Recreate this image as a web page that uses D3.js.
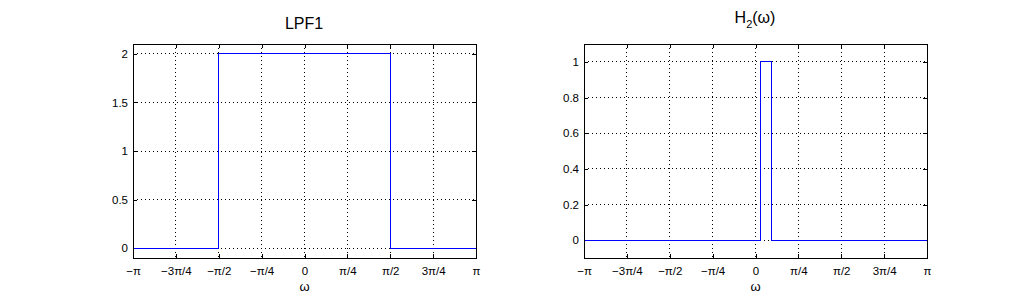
<!DOCTYPE html>
<html>
<head>
<meta charset="utf-8">
<script src="https://cdn.jsdelivr.net/npm/d3@7"></script>
<style>
  body { margin: 0; background: #fff; }
  svg { display: block; font-family: "Liberation Sans", Arial, sans-serif; }
</style>
</head>
<body>
<svg id="canvas"></svg>
<script>
let width = 1024;
let height = 300;
let PI = Math.PI;

// x ticks shared by both panels
let xTicks = [-PI, -3 * PI / 4, -PI / 2, -PI / 4, 0, PI / 4, PI / 2, 3 * PI / 4, PI];
let xTickLabels = ['\u2212\u03c0', '\u22123\u03c0/4', '\u2212\u03c0/2', '\u2212\u03c0/4', '0', '\u03c0/4', '\u03c0/2', '3\u03c0/4', '\u03c0'];

// LPF1 step data
let lpfOmega = [-PI, -PI / 2, -PI / 2, PI / 2, PI / 2, PI];
let lpfValue = [0, 0, 2, 2, 0, 0];
let lpfYTicks = [0, 0.5, 1, 1.5, 2];

// H2 step data
let h2Omega = [-PI, 0.1, 0.1, 0.3, 0.3, PI];
let h2Value = [0, 0, 1, 1, 0, 0];
let h2YTicks = [0, 0.2, 0.4, 0.6, 0.8, 1];

let canvas = d3.select('#canvas')
    .attr('width', width)
    .attr('height', height);

let drawPanel = (opts) => {
    let xScale = d3.scaleLinear().domain([-PI, PI]).range([opts.left, opts.right]);
    let yScale = d3.scaleLinear().domain(opts.yDomain).range([opts.bottom, opts.top]);
    let g = canvas.append('g');

    // dotted grid
    g.selectAll('.vgrid')
     .data(xTicks.slice(1, -1))
     .enter()
     .append('line')
     .attr('x1', (d) => xScale(d)).attr('x2', (d) => xScale(d))
     .attr('y1', opts.top).attr('y2', opts.bottom)
     .attr('stroke', '#000').attr('stroke-width', 1)
     .attr('stroke-dasharray', '1,3')
     .attr('shape-rendering', 'crispEdges');

    g.selectAll('.hgrid')
     .data(opts.yTicks)
     .enter()
     .append('line')
     .attr('x1', opts.left).attr('x2', opts.right)
     .attr('y1', (d) => yScale(d)).attr('y2', (d) => yScale(d))
     .attr('stroke', '#000').attr('stroke-width', 1)
     .attr('stroke-dasharray', '1,3')
     .attr('shape-rendering', 'crispEdges');

    // axes, ticks pointing inward
    let xAxis = d3.axisBottom(xScale).tickValues(xTicks)
        .tickFormat((d, i) => xTickLabels[i]).tickSizeInner(-4).tickSizeOuter(0).tickPadding(9);
    let yAxis = d3.axisLeft(yScale).tickValues(opts.yTicks)
        .tickFormat(d3.format('')).tickSizeInner(-4).tickSizeOuter(0).tickPadding(5);
    let xTop = d3.axisTop(xScale).tickValues(xTicks).tickFormat('').tickSizeInner(-4).tickSizeOuter(0);
    let yRight = d3.axisRight(yScale).tickValues(opts.yTicks).tickFormat('').tickSizeInner(-4).tickSizeOuter(0);

    let styleAxis = (sel) => {
        sel.selectAll('text').attr('font-size', 11.5).attr('fill', '#000')
           .attr('font-family', '"Liberation Sans", Arial, sans-serif');
        sel.selectAll('line').attr('stroke', '#000').attr('shape-rendering', 'crispEdges');
        sel.select('.domain').remove();
    };

    g.append('g').attr('transform', 'translate(0,' + opts.bottom + ')').call(xAxis).call(styleAxis);
    g.append('g').attr('transform', 'translate(' + opts.left + ',0)').call(yAxis).call(styleAxis);
    g.append('g').attr('transform', 'translate(0,' + opts.top + ')').call(xTop).call(styleAxis);
    g.append('g').attr('transform', 'translate(' + opts.right + ',0)').call(yRight).call(styleAxis);

    // data line
    let line = d3.line().x((d) => xScale(d[0])).y((d) => yScale(d[1]));
    g.append('path')
     .datum(opts.omega.map((w, i) => [w, opts.values[i]]))
     .attr('d', line)
     .attr('fill', 'none')
     .attr('stroke', '#0000ff')
     .attr('stroke-width', 1)
     .attr('shape-rendering', 'crispEdges');

    // box
    g.append('rect')
     .attr('x', opts.left).attr('y', opts.top)
     .attr('width', opts.right - opts.left).attr('height', opts.bottom - opts.top)
     .attr('fill', 'none').attr('stroke', '#000').attr('stroke-width', 1)
     .attr('shape-rendering', 'crispEdges');

    // x label
    g.append('text')
     .attr('x', (opts.left + opts.right) / 2).attr('y', 291)
     .attr('text-anchor', 'middle').attr('font-size', 13)
     .text('\u03c9');

    return g;
};

let g1 = drawPanel({
    left: 133, right: 476, top: 44, bottom: 258,
    yDomain: [-0.1, 2.1], yTicks: lpfYTicks,
    omega: lpfOmega, values: lpfValue
});
g1.append('text')
  .attr('x', 304).attr('y', 29)
  .attr('text-anchor', 'middle').attr('font-size', 16)
  .text('LPF1');

let g2 = drawPanel({
    left: 584, right: 927, top: 44, bottom: 258,
    yDomain: [-0.1, 1.1], yTicks: h2YTicks,
    omega: h2Omega, values: h2Value
});
let title2 = g2.append('text')
  .attr('x', 755).attr('y', 23)
  .attr('text-anchor', 'middle').attr('font-size', 16);
title2.append('tspan').text('H');
title2.append('tspan').attr('font-size', 11).attr('dy', 5).text('2');
title2.append('tspan').attr('dy', -5).text('(\u03c9)');
</script>
</body>
</html>
